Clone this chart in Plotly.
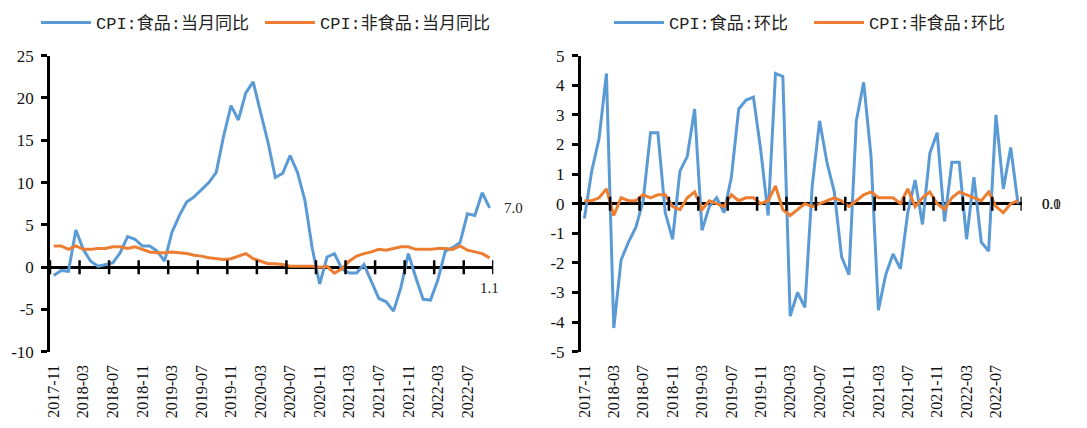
import plotly.graph_objects as go

# ---------------- data ----------------
months = [f"{2017 + (10 + i) // 12}-{(10 + i) % 12 + 1:02d}" for i in range(60)]  # 2017-11 .. 2022-10

food_yoy = [-1.0, -0.4, -0.5, 4.4, 2.1, 0.7, 0.1, 0.3, 0.5, 1.7,
            3.6, 3.3, 2.5, 2.5, 1.9, 0.7, 4.1, 6.1, 7.7, 8.3,
            9.1, 10.0, 11.2, 15.5, 19.1, 17.4, 20.6, 21.9, 18.3, 14.8,
            10.6, 11.1, 13.2, 11.2, 7.9, 2.2, -2.0, 1.2, 1.6, -0.2,
            -0.7, -0.7, 0.3, -1.7, -3.7, -4.1, -5.2, -2.4, 1.6, -1.2,
            -3.8, -3.9, -1.5, 1.9, 2.3, 2.9, 6.3, 6.1, 8.8, 7.0]

nonfood_yoy = [2.5, 2.5, 2.1, 2.5, 2.1, 2.1, 2.2, 2.2, 2.4, 2.4,
               2.2, 2.4, 2.1, 1.8, 1.7, 1.7, 1.8, 1.7, 1.6, 1.4,
               1.3, 1.1, 1.0, 0.9, 1.0, 1.3, 1.6, 1.0, 0.7, 0.4,
               0.4, 0.3, 0.1, 0.1, 0.1, 0.1, 0.0, 0.1, -0.7, -0.2,
               0.7, 1.3, 1.6, 1.8, 2.1, 2.0, 2.2, 2.4, 2.4, 2.1,
               2.1, 2.1, 2.2, 2.2, 2.1, 2.5, 2.0, 1.8, 1.6, 1.1]

food_mom = [-0.5, 1.1, 2.2, 4.4, -4.2, -1.9, -1.3, -0.8, 0.1, 2.4,
            2.4, -0.3, -1.2, 1.1, 1.6, 3.2, -0.9, -0.1, 0.2, -0.3,
            0.9, 3.2, 3.5, 3.6, 1.8, -0.4, 4.4, 4.3, -3.8, -3.0,
            -3.5, 0.6, 2.8, 1.4, 0.4, -1.8, -2.4, 2.8, 4.1, 1.6,
            -3.6, -2.4, -1.7, -2.2, -0.3, 0.8, -0.7, 1.7, 2.4, -0.6,
            1.4, 1.4, -1.2, 0.9, -1.3, -1.6, 3.0, 0.5, 1.9, 0.0]

nonfood_mom = [0.1, 0.1, 0.2, 0.5, -0.4, 0.2, 0.1, 0.1, 0.3, 0.2,
               0.3, 0.3, -0.1, -0.2, 0.2, 0.4, -0.2, 0.1, 0.0, -0.1,
               0.3, 0.1, 0.2, 0.2, 0.0, 0.1, 0.6, -0.2, -0.4, -0.2,
               0.0, -0.1, 0.0, 0.1, 0.2, 0.1, -0.1, 0.1, 0.3, 0.4,
               0.2, 0.2, 0.2, 0.0, 0.5, -0.1, 0.2, 0.4, 0.0, -0.2,
               0.2, 0.4, 0.3, 0.2, 0.1, 0.4, -0.1, -0.3, 0.0, 0.1]

names = ["CPI:食品:当月同比", "CPI:非食品:当月同比", "CPI:食品:环比", "CPI:非食品:环比"]

yoy_ticks = [-10, -5, 0, 5, 10, 15, 20, 25]
mom_ticks = [-5, -4, -3, -2, -1, 0, 1, 2, 3, 4, 5]

# ---------------- styles ----------------
BLUE = "#5B9BD5"
ORANGE = "#ED7D31"
SERIF = "Liberation Serif"
LEG_FONT = "Liberation Mono, Noto Sans CJK SC"

n = len(months)
xs = list(range(n))
tick_idx = list(range(0, n, 4))
boundaries = [i - 0.5 for i in range(0, n + 1, 4)]

fig = go.Figure()

def add_pair(xa, ya, s1, s2, n1, n2, leg1, leg2):
    fig.add_trace(go.Scatter(x=xs, y=s1, mode="lines", name=n1, xaxis=xa, yaxis=ya,
                             line=dict(color=BLUE, width=3), legend=leg1))
    fig.add_trace(go.Scatter(x=xs, y=s2, mode="lines", name=n2, xaxis=xa, yaxis=ya,
                             line=dict(color=ORANGE, width=3), legend=leg2))
    # tick marks crossing the zero axis (category boundaries)
    fig.add_trace(go.Scatter(x=boundaries, y=[0] * len(boundaries), mode="markers",
                             xaxis=xa, yaxis=ya, showlegend=False, hoverinfo="skip",
                             marker=dict(symbol="line-ns", size=10, color="black",
                                         line=dict(color="black", width=2.5))))

add_pair("x", "y", food_yoy, nonfood_yoy, names[0], names[1], "legend", "legend2")
add_pair("x2", "y2", food_mom, nonfood_mom, names[2], names[3], "legend3", "legend4")

ydom = [1 - 351.7 / 428, 1 - 55.7 / 428]

xcommon = dict(range=[-0.5, n - 0.5], tickmode="array", tickvals=tick_idx,
               ticktext=[months[i] for i in tick_idx], tickangle=-90,
               ticks="", showline=False, showgrid=False, zeroline=False,
               tickfont=dict(family=SERIF, size=16, color="#111"),
               ticklabelstandoff=9, fixedrange=True)
ycommon = dict(showgrid=False, showline=True, linecolor="black", linewidth=2.5,
               ticks="outside", ticklen=6, tickwidth=2.5, tickcolor="black",
               zeroline=True, zerolinecolor="black", zerolinewidth=3,
               tickfont=dict(family=SERIF, size=17, color="#111"),
               ticklabelstandoff=4, fixedrange=True, tickmode="array")

fig.update_layout(
    template="none",
    font=dict(family=SERIF, size=16, color="#111"),
    width=1087, height=428,
    margin=dict(l=0, r=0, t=0, b=0, autoexpand=False),
    paper_bgcolor="white", plot_bgcolor="rgba(0,0,0,0)",
    xaxis=dict(domain=[50 / 1087, 493.3 / 1087], anchor="y", **xcommon),
    yaxis=dict(domain=ydom, anchor="x", range=[-10, 25], tickvals=yoy_ticks,
               ticktext=[str(v) for v in yoy_ticks], **ycommon),
    xaxis2=dict(domain=[580.7 / 1087, 1021.7 / 1087], anchor="y2", **xcommon),
    yaxis2=dict(domain=ydom, anchor="x2", range=[-5, 5], tickvals=mom_ticks,
                ticktext=[str(v) for v in mom_ticks], **ycommon),
)

leg_common = dict(orientation="h", bgcolor="rgba(0,0,0,0)", borderwidth=0,
                  font=dict(family=LEG_FONT, size=17, color="#222"),
                  xanchor="left", yanchor="middle", y=1 - 23 / 428, itemwidth=50)
fig.update_layout(
    legend=dict(x=36 / 1087, **leg_common),
    legend2=dict(x=260 / 1087, **leg_common),
    legend3=dict(x=609 / 1087, **leg_common),
    legend4=dict(x=809 / 1087, **leg_common),
)

# end-of-series value labels
lab_font = dict(family=SERIF, size=15, color="#222")
fig.add_annotation(x=n - 1, y=food_yoy[-1], xref="x", yref="y", text=f"{food_yoy[-1]:.1f}",
                   showarrow=False, xanchor="left", xshift=12, font=lab_font)
fig.add_annotation(x=n - 1, y=nonfood_yoy[-1], xref="x", yref="y", text=f"{nonfood_yoy[-1]:.1f}",
                   showarrow=False, xanchor="center", yshift=-30, font=lab_font)
fig.add_annotation(x=n - 1, y=food_mom[-1], xref="x2", yref="y2", text=f"{food_mom[-1]:.1f}",
                   showarrow=False, xanchor="left", xshift=22, font=lab_font)
fig.add_annotation(x=n - 1, y=nonfood_mom[-1], xref="x2", yref="y2", text=f"{nonfood_mom[-1]:.1f}",
                   showarrow=False, xanchor="left", xshift=22, yshift=-(nonfood_mom[-1] * 29.6), font=lab_font)

fig.write_html("out.html", config={"displayModeBar": False},
               post_script="document.body.style.margin='0';")
